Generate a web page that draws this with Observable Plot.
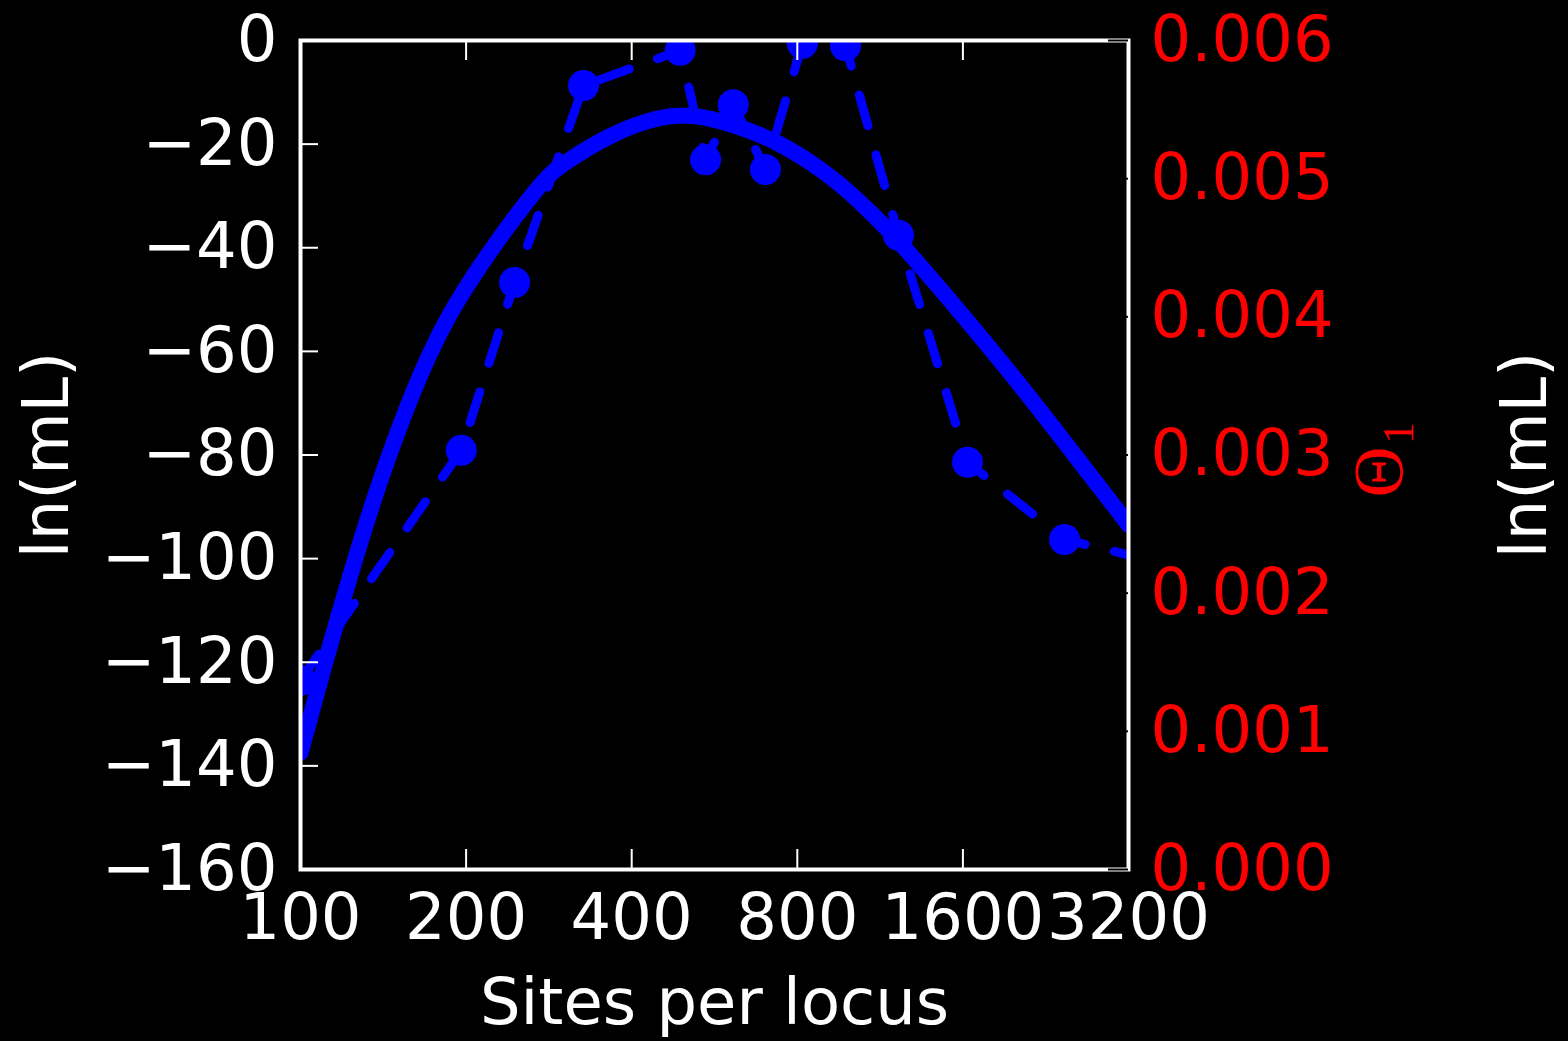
<!DOCTYPE html>
<html><head><meta charset="utf-8">
<script src="https://cdn.jsdelivr.net/npm/d3@7"></script>
<script src="https://cdn.jsdelivr.net/npm/@observablehq/plot@0.6"></script>
<style>
html,body{margin:0;padding:0;background:#000;}
</style></head><body><div id="chart"></div>
<script>
// observed (dashed, with markers)
const sites = [100, 196, 245, 327, 490, 545, 612, 700, 817, 979, 1222, 1631, 2448, 3600];
const lnL   = [-123.5, -79.1, -46.7, -8.7, -1.9, -23.0, -12.4, -24.9, -0.6, -1.0, -37.6, -81.4, -96.3, -100.6];
// fitted curve (solid)
const fitSites = [100, 112.4, 124.3, 138.6, 159.9, 183.5, 223.3, 276.4, 296.7, 365.9, 451, 518, 596, 736, 909, 1000, 1122, 1222, 1557, 2055, 2540, 3087, 3200];
const fitLnL   = [-137.5, -117.7, -101.7, -85.5, -67.6, -53.5, -39.8, -26.8, -24.1, -18.0, -14.5, -14.3, -15.8, -19.3, -25.7, -29.5, -34.6, -38.6, -51.5, -67.0, -79.7, -91.3, -93.5];
const xTicks = [100, 200, 400, 800, 1600, 3200];
const yTicks = [-160, -140, -120, -100, -80, -60, -40, -20, 0];
const thetaTicks = [0, 0.001, 0.002, 0.003, 0.004, 0.005, 0.006];
const xLabel = "Sites per locus";
const yLabel = "ln(mL)";
const thetaLabel = "Θ";
const thetaSub = "1";

const W = 1568, H = 1041, mL = 300, mR = 440, mT = 40, mB = 172;
const yMin = -160, yMax = 0, thMax = 0.006;
const fw = W - mL - mR, fh = H - mT - mB;
const thetaToY = t => yMin + (t / thMax) * (yMax - yMin);
const yToTheta = v => (v - yMin) / (yMax - yMin) * thMax;

const points = sites.map((s, i) => ({s, v: lnL[i]}));
const fit = fitSites.map((s, i) => ({s, v: fitLnL[i]}));
const blue = "#0000ff";
const fs = 64;

const chart = Plot.plot({
  width: W, height: H,
  marginLeft: mL, marginRight: mR, marginTop: mT, marginBottom: mB,
  style: {background: "#000", color: "#fff", fontFamily: "DejaVu Sans", fontSize: fs + "px"},
  x: {type: "log", base: 2, domain: [100, 3200], label: null},
  y: {domain: [yMin, yMax], label: null},
  marks: [
    Plot.line(fit, {x: "s", y: "v", stroke: blue, strokeWidth: 16, curve: "basis", clip: true}),
    Plot.line(points, {x: "s", y: "v", stroke: blue, strokeWidth: 9, strokeDasharray: "32,30", clip: true}),
    Plot.dot(points, {x: "s", y: "v", r: 15.5, fill: blue, stroke: null, clip: true}),
    Plot.frame({stroke: "#fff", strokeWidth: 4}),
    Plot.tickX(xTicks, {x: d => d, stroke: "#fff", strokeWidth: 2, insetTop: fh - 20}),
    Plot.tickX(xTicks, {x: d => d, stroke: "#fff", strokeWidth: 2, insetBottom: fh - 20}),
    Plot.tickY(yTicks, {y: d => d, stroke: "#fff", strokeWidth: 2, insetRight: fw - 18}),
    Plot.tickY(thetaTicks.map(thetaToY), {y: d => d, stroke: "#000", strokeWidth: 2, insetLeft: fw - 20}),
    Plot.axisX(xTicks, {anchor: "bottom", tickSize: 0, tickPadding: 24, tickFormat: d => String(d), fill: "#fff", fontSize: fs, label: null}),
    Plot.axisY(yTicks, {anchor: "left", tickSize: 0, tickPadding: 23, tickFormat: d => d < 0 ? "\u2212" + (-d) : String(d), fill: "#fff", fontSize: fs, label: null}),
    Plot.axisY(thetaTicks.map(thetaToY), {anchor: "right", tickSize: 0, tickPadding: 22, tickFormat: v => yToTheta(v).toFixed(3), fill: "#ff0000", fontSize: fs, label: null}),
    Plot.text([xLabel], {frameAnchor: "bottom", text: d => d, dy: 134, fill: "#fff", fontSize: fs, textAnchor: "middle", lineAnchor: "middle"}),
    Plot.text([yLabel], {frameAnchor: "left", text: d => d, rotate: -90, dx: -253, fill: "#fff", fontSize: fs, textAnchor: "middle", lineAnchor: "middle"}),
    Plot.text([yLabel], {frameAnchor: "right", text: d => d, rotate: -90, dx: 397, fill: "#fff", fontSize: fs, textAnchor: "middle", lineAnchor: "middle"}),
    Plot.text([thetaLabel], {frameAnchor: "right", text: d => d, rotate: -90, dx: 251, dy: 17, fill: "#ff0000", fontSize: 70, fontFamily: "Liberation Serif", textAnchor: "middle", lineAnchor: "middle"}),
    Plot.text([thetaSub], {frameAnchor: "right", text: d => d, rotate: -90, dx: 270, dy: -22, fill: "#ff0000", fontSize: 44, fontFamily: "Liberation Serif", textAnchor: "middle", lineAnchor: "middle"})
  ]
});
document.getElementById("chart").appendChild(chart);
</script>
</body></html>
